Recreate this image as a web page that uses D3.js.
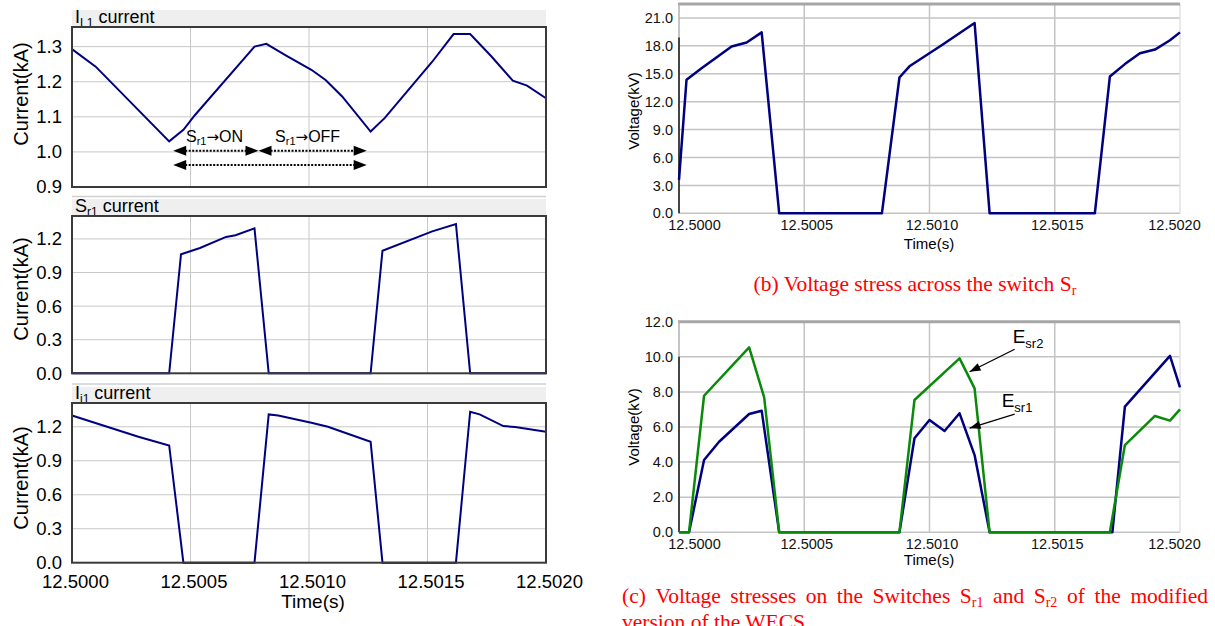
<!DOCTYPE html>
<html>
<head>
<meta charset="utf-8">
<script src="https://cdn.jsdelivr.net/npm/d3@7"></script>
<style>
  body { margin: 0; background: #fff; }
  svg { display: block; }
</style>
</head>
<body>
<svg id="fig" width="1215" height="626"></svg>
<script>
// ---- data ----
const timeTicks = [12.5000, 12.5005, 12.5010, 12.5015, 12.5020];
const timeLabels = ["12.5000", "12.5005", "12.5010", "12.5015", "12.5020"];

// I_L1 current (kA)
const il1Time = [12.5, 12.5001, 12.50041, 12.50047, 12.50052, 12.50077, 12.50082, 12.5009, 12.50101, 12.50107,
  12.50114, 12.50126, 12.50132, 12.50152, 12.50161, 12.50168, 12.50177, 12.50186, 12.50192, 12.502];
const il1Value = [1.293, 1.243, 1.030, 1.063, 1.106, 1.300, 1.308, 1.276, 1.234, 1.205,
  1.158, 1.058, 1.097, 1.257, 1.336, 1.336, 1.272, 1.203, 1.189, 1.153];

// S_r1 current (kA)
const sr1Time = [12.5, 12.50041, 12.50046, 12.50054, 12.50065, 12.50069, 12.50077, 12.50083, 12.50126, 12.50131,
  12.50152, 12.50162, 12.50168, 12.502];
const sr1Value = [0, 0, 1.064, 1.119, 1.218, 1.233, 1.295, 0, 0, 1.095, 1.268, 1.334, 0, 0];

// I_i1 current (kA)
const ii1Time = [12.5, 12.50028, 12.50041, 12.50047, 12.50077, 12.50083, 12.50087, 12.50101, 12.50108, 12.50126,
  12.50131, 12.50162, 12.50168, 12.50172, 12.50182, 12.50187, 12.502];
const ii1Value = [1.30, 1.112, 1.035, 0, 0, 1.309, 1.300, 1.236, 1.200, 1.067, 0, 0, 1.333, 1.310, 1.206, 1.198, 1.156];

// voltage across S_r (kV)
const vsrTime = [12.5, 12.50003, 12.50009, 12.50021, 12.50027, 12.50033, 12.5004, 12.50081, 12.50088, 12.50092,
  12.50105, 12.50118, 12.50124, 12.50166, 12.50172, 12.50178, 12.50184, 12.5019, 12.50196, 12.502];
const vsrValue = [3.6, 14.36, 15.6, 17.94, 18.37, 19.45, 0, 0, 14.6, 15.8,
  18.1, 20.46, 0, 0, 14.7, 16.04, 17.2, 17.6, 18.6, 19.45];

// E_sr1 / E_sr2 (kV)
const esr1Time = [12.5, 12.50004, 12.5001, 12.50016, 12.50028, 12.50033, 12.5004, 12.50088, 12.50094, 12.501,
  12.50106, 12.50112, 12.50118, 12.50124, 12.50173, 12.50178, 12.50196, 12.502];
const esr1Value = [0, 0, 4.12, 5.16, 6.74, 6.93, 0, 0, 5.36, 6.4, 5.77, 6.78, 4.4, 0, 0, 7.16, 10.05, 8.26];
const esr2Time = [12.5, 12.50004, 12.5001, 12.50028, 12.50034, 12.5004, 12.50088, 12.50094, 12.50112, 12.50118,
  12.50124, 12.50172, 12.50178, 12.5019, 12.50196, 12.502];
const esr2Value = [0, 0, 7.78, 10.54, 7.69, 0, 0, 7.54, 9.91, 8.2, 0, 0, 4.97, 6.63, 6.36, 7.0];

const il1Ticks = [0.9, 1.0, 1.1, 1.2, 1.3];
const swTicks = [0.0, 0.3, 0.6, 0.9, 1.2];
const vsrTicks = [0, 3, 6, 9, 12, 15, 18, 21];
const esrTicks = [0, 2, 4, 6, 8, 10, 12];

// annotation anchors (time, value)
const onOffTips = [12.500427, 12.500787, 12.5012435];
const arrowRows = [1.0034, 0.9627];
const onOffText = [[12.500481, "ON"], [12.500857, "OFF"]];

// ---- drawing ----
const svg = d3.select("#fig");
const SANS = "'Liberation Sans', Arial, sans-serif";
const SERIF = "'Liberation Serif', 'Times New Roman', serif";
const NAVY = "#000080";
const GREEN = "#0a8a0a";

const xL = d3.scaleLinear().domain([12.5, 12.502]).range([72, 546]);
const xR = d3.scaleLinear().domain([12.5, 12.502]).range([679, 1180]);
const zip = (t, v) => t.map((d, i) => [d, v[i]]);

function subText(sel, main, sub, size, subSize, shift, rest) {
  sel.append("tspan").text(main);
  sel.append("tspan").attr("font-size", subSize).attr("dy", shift).text(sub);
  if (rest) sel.append("tspan").attr("dy", -shift).attr("font-size", size).text(rest);
  return sel;
}

function arrowHead(g, x, y, dir, len, half) {
  g.append("path")
    .attr("d", `M${x},${y} L${x - dir * len},${y - half} L${x - dir * len},${y + half} Z`)
    .attr("fill", "#000");
}

function leftPanel(o) {
  const y = d3.scaleLinear().domain(o.domain).range([o.bottom, o.top]);
  const g = svg.append("g");
  if (o.sep) g.append("line").attr("x1", 72).attr("x2", 546).attr("y1", o.sep).attr("y2", o.sep)
    .attr("stroke", "#cfcfcf").attr("stroke-width", 1.5);
  g.append("rect").attr("x", 72).attr("y", o.band).attr("width", 474).attr("height", o.top - o.band)
    .attr("fill", "#efefef");
  const title = g.append("text").attr("x", 75).attr("y", o.top - 4)
    .attr("font-family", SANS).attr("font-size", 18).attr("fill", "#000");
  subText(title, o.title[0], o.title[1], 18, 12, 4, " current");

  g.selectAll(".hg").data(o.ticks.filter(d => d > o.domain[0])).join("line")
    .attr("x1", 72).attr("x2", 546).attr("y1", d => y(d)).attr("y2", d => y(d))
    .attr("stroke", "#c8c8c8").attr("stroke-width", 1);
  g.selectAll(".vg").data(timeTicks.slice(1, -1)).join("line")
    .attr("x1", d => xL(d)).attr("x2", d => xL(d)).attr("y1", o.top).attr("y2", o.bottom)
    .attr("stroke", "#c8c8c8").attr("stroke-width", 1);

  g.append("path").datum(zip(o.t, o.v))
    .attr("d", d3.line().x(d => xL(d[0])).y(d => y(d[1])))
    .attr("fill", "none").attr("stroke", NAVY).attr("stroke-width", 2);

  g.append("rect").attr("x", 72).attr("y", o.top).attr("width", 474).attr("height", o.bottom - o.top)
    .attr("fill", "none").attr("stroke", "#3a3a3a").attr("stroke-width", 2);

  const ax = g.append("g").attr("transform", "translate(72,0)")
    .call(d3.axisLeft(y).tickValues(o.ticks).tickSize(0).tickPadding(10).tickFormat(d3.format(".1f")));
  ax.select(".domain").remove();
  ax.selectAll("text").attr("font-size", 18.5).attr("font-family", SANS).attr("fill", "#000");

  g.append("text").attr("transform", `translate(21,${o.titleY}) rotate(-90)`)
    .attr("text-anchor", "middle").attr("dominant-baseline", "central")
    .attr("font-family", SANS).attr("font-size", 20).text("Current(kA)");
  return y;
}

function rightPanel(o) {
  const y = d3.scaleLinear().domain(o.domain).range([o.bottom, o.top]);
  const g = svg.append("g");
  g.selectAll(".hg").data(o.ticks.filter(d => y(d) > o.top + 2)).join("line")
    .attr("x1", 679).attr("x2", 1180).attr("y1", d => y(d)).attr("y2", d => y(d))
    .attr("stroke", "#c4c4c4").attr("stroke-width", 1.5);
  g.selectAll(".vg").data(timeTicks.slice(1)).join("line")
    .attr("x1", d => xR(d)).attr("x2", d => xR(d)).attr("y1", o.top).attr("y2", o.bottom)
    .attr("stroke", d => d === 12.502 ? "#e2e2e2" : "#c4c4c4").attr("stroke-width", 1.5);
  g.append("line").attr("x1", 678).attr("x2", 1180).attr("y1", o.top).attr("y2", o.top)
    .attr("stroke", "#a6a6a6").attr("stroke-width", 3);
  g.append("line").attr("x1", 679).attr("x2", 679).attr("y1", o.top).attr("y2", o.bottom)
    .attr("stroke", "#b0b0b0").attr("stroke-width", 1.5);
  g.append("line").attr("x1", 679).attr("x2", 679).attr("y1", y(o.darkTo)).attr("y2", o.bottom)
    .attr("stroke", "#454545").attr("stroke-width", 2);

  o.series.forEach(s => {
    g.append("path").datum(zip(s.t, s.v))
      .attr("d", d3.line().x(d => xR(d[0])).y(d => y(d[1])))
      .attr("fill", "none").attr("stroke", s.color).attr("stroke-width", 2.5)
      .attr("stroke-linejoin", "round");
  });

  const ay = g.append("g").attr("transform", "translate(679,0)")
    .call(d3.axisLeft(y).tickValues(o.ticks).tickSize(0).tickPadding(6).tickFormat(d3.format(".1f")));
  ay.select(".domain").remove();
  ay.selectAll("text").attr("font-size", 14.5).attr("font-family", SANS).attr("fill", "#111");

  const axx = g.append("g").attr("transform", `translate(0,${o.bottom})`)
    .call(d3.axisBottom(xR).tickValues(timeTicks).tickSize(0).tickPadding(6)
      .tickFormat((d, i) => timeLabels[i]));
  axx.select(".domain").remove();
  axx.selectAll("text").attr("font-size", 14.5).attr("font-family", SANS).attr("fill", "#111")
    .attr("dx", (d, i) => i === 0 ? 15 : i === 4 ? -6 : 2);

  g.append("text").attr("x", 929).attr("y", o.timeY).attr("text-anchor", "middle")
    .attr("font-family", SANS).attr("font-size", 15).text("Time(s)");
  g.append("text").attr("transform", `translate(633,${o.titleY}) rotate(-90)`)
    .attr("text-anchor", "middle").attr("dominant-baseline", "central")
    .attr("font-family", SANS).attr("font-size", 15).text("Voltage(kV)");
  return y;
}

// left column
const yIL1 = leftPanel({ domain: [0.9, 1.356], top: 27, bottom: 187, band: 10, ticks: il1Ticks,
  t: il1Time, v: il1Value, title: ["I", "L1"], titleY: 94 });
leftPanel({ domain: [0, 1.405], top: 216, bottom: 373.3, band: 199, sep: 196.5, ticks: swTicks,
  t: sr1Time, v: sr1Value, title: ["S", "r1"], titleY: 289 });
leftPanel({ domain: [0, 1.41], top: 403, bottom: 562.7, band: 387, sep: 384, ticks: swTicks,
  t: ii1Time, v: ii1Value, title: ["I", "i1"], titleY: 478 });

const axL = svg.append("g").attr("transform", "translate(0,562.7)")
  .call(d3.axisBottom(xL).tickValues(timeTicks).tickSize(0).tickPadding(12)
    .tickFormat((d, i) => timeLabels[i]));
axL.select(".domain").remove();
axL.selectAll("text").attr("font-size", 18.5).attr("font-family", SANS).attr("fill", "#000").attr("dx", 3);
svg.append("text").attr("x", 313).attr("y", 608).attr("text-anchor", "middle")
  .attr("font-family", SANS).attr("font-size", 19).text("Time(s)");

// S_r1 -> ON / OFF annotation
const ann = svg.append("g");
onOffText.forEach(([t, s]) => {
  const tx = ann.append("text").attr("x", xL(t)).attr("y", yIL1(1.029))
    .attr("font-family", SANS).attr("font-size", 16);
  subText(tx, "S", "r1", 16, 11, 3);
  tx.append("tspan").attr("dy", -3).attr("font-family", "'DejaVu Sans', sans-serif")
    .attr("font-size", 15).text("→");
  tx.append("tspan").text(s);
});
const rowSegs = [[onOffTips[0], onOffTips[1], arrowRows[0]], [onOffTips[1], onOffTips[2], arrowRows[0]],
  [onOffTips[0], onOffTips[2], arrowRows[1]]];
rowSegs.forEach(([a, b, v]) => {
  const x1 = xL(a), x2 = xL(b), yy = yIL1(v);
  ann.append("line").attr("x1", x1 + 12).attr("x2", x2 - 12).attr("y1", yy).attr("y2", yy)
    .attr("stroke", "#000").attr("stroke-width", 2).attr("stroke-dasharray", "2,1.5");
  arrowHead(ann, x1, yy, -1, 13, 5);
  arrowHead(ann, x2, yy, 1, 13, 5);
});

// right column
rightPanel({ domain: [0, 22.5], top: 4, bottom: 213.3, ticks: vsrTicks, darkTo: 18.9,
  series: [{ t: vsrTime, v: vsrValue, color: NAVY }], timeY: 249, titleY: 111 });
const yE = rightPanel({ domain: [0, 12], top: 321.7, bottom: 532.3, ticks: esrTicks, darkTo: 10,
  series: [{ t: esr1Time, v: esr1Value, color: NAVY }, { t: esr2Time, v: esr2Value, color: GREEN }],
  timeY: 565, titleY: 427 });

// E_sr labels with pointers
const eLabels = [
  { name: "sr2", at: [12.501332, 10.77], from: [12.50134, 10.43], to: [12.50116, 9.15] },
  { name: "sr1", at: [12.501288, 7.14], from: [12.50134, 6.74], to: [12.50116, 5.93] }
];
eLabels.forEach(e => {
  const tx = svg.append("text").attr("x", xR(e.at[0])).attr("y", yE(e.at[1]))
    .attr("font-family", SANS).attr("font-size", 19);
  subText(tx, "E", e.name, 19, 13, 5);
  const x1 = xR(e.from[0]), y1 = yE(e.from[1]), x2 = xR(e.to[0]), y2 = yE(e.to[1]);
  const ang = Math.atan2(y2 - y1, x2 - x1) * 180 / Math.PI;
  svg.append("line").attr("x1", x1).attr("y1", y1).attr("x2", x2).attr("y2", y2)
    .attr("stroke", "#000").attr("stroke-width", 1.3);
  svg.append("path").attr("d", "M0,0 L-11,-4 L-11,4 Z").attr("fill", "#000")
    .attr("transform", `translate(${x2},${y2}) rotate(${ang})`);
});

// captions
const capB = svg.append("text").attr("x", 915).attr("y", 291).attr("text-anchor", "middle")
  .attr("font-family", SERIF).attr("font-size", 21.5).attr("fill", "#f00");
subText(capB, "(b) Voltage stress across the switch S", "r", 21.5, 14, 4);

const capWords = [["(c)"], ["Voltage"], ["stresses"], ["on"], ["the"], ["Switches"], ["S", "r1"],
  ["and"], ["S", "r2"], ["of"], ["the"], ["modified"]];
const wordNodes = capWords.map(w => {
  const t = svg.append("text").attr("y", 603).attr("font-family", SERIF)
    .attr("font-size", 21.5).attr("fill", "#f00");
  if (w.length > 1) subText(t, w[0], w[1], 21.5, 14, 4); else t.text(w[0]);
  return t;
});
const widths = wordNodes.map(n => n.node().getComputedTextLength());
const gap = (1208 - 622 - d3.sum(widths)) / (widths.length - 1);
let cx = 622;
wordNodes.forEach((n, i) => { n.attr("x", cx); cx += widths[i] + gap; });
svg.append("text").attr("x", 622).attr("y", 629).attr("font-family", SERIF)
  .attr("font-size", 21.5).attr("fill", "#f00").text("version of the WECS");
</script>
</body>
</html>
